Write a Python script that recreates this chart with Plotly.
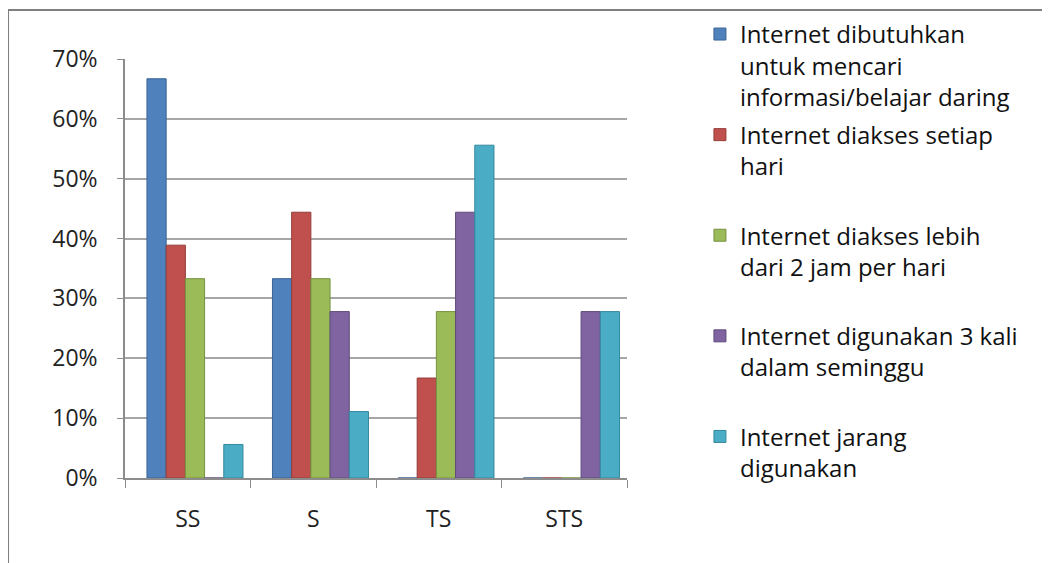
import plotly.graph_objects as go

categories = ['SS', 'S', 'TS', 'STS']
series_names = [
    'Internet dibutuhkan<br>untuk mencari<br>informasi/belajar daring',
    'Internet diakses setiap<br>hari<br> ',
    'Internet diakses lebih<br>dari 2 jam per hari<br> ',
    'Internet digunakan 3 kali<br>dalam seminggu<br> ',
    'Internet jarang<br>digunakan<br> ',
]
# shares per category, one list per series
dibutuhkan = [0.667, 0.333, 0.0, 0.0]
setiap_hari = [0.389, 0.444, 0.167, 0.0]
lebih_2_jam = [0.333, 0.333, 0.278, 0.0]
tiga_kali = [0.0, 0.278, 0.444, 0.278]
jarang = [0.056, 0.111, 0.556, 0.278]
y_ticks = [0, 0.1, 0.2, 0.3, 0.4, 0.5, 0.6, 0.7]

colors = ['#4F81BD', '#C0504D', '#9BBB59', '#8064A2', '#4BACC6']
edge = ['#3A6494', '#943C3A', '#76913F', '#5F4A7A', '#34889E']

# bars sit a bit right of the slot centre, like the 3-D original
bar_w = 0.153
first_off = -0.325

fig = go.Figure()
for i, vals in enumerate([dibutuhkan, setiap_hari, lebih_2_jam, tiga_kali, jarang]):
    fig.add_trace(go.Bar(
        x=categories, y=vals, name=series_names[i],
        width=bar_w, offset=first_off + i * bar_w,
        marker=dict(color=colors[i], line=dict(color=edge[i], width=1)),
        legendgroup=str(i),
    ))

font = 'Open Sans, Lato, sans-serif'
fig.update_layout(
    width=1050, height=563,
    margin=dict(l=117, r=431, t=51, b=93),
    paper_bgcolor='white', plot_bgcolor='white',
    barmode='group',
    font=dict(family=font, size=23, color='#222222'),
    showlegend=True,
    legend=dict(
        xref='container', yref='container',
        x=0.659, y=0.993, xanchor='left', yanchor='top',
        font=dict(size=24, color='#111111'),
        tracegroupgap=4, itemwidth=30, valign='top',
        maxheight=560,
        bgcolor='rgba(0,0,0,0)',
    ),
    xaxis=dict(
        showline=True, linecolor='#8c8c8c', linewidth=1.5,
        ticks='outside', ticklen=8, tickcolor='#8c8c8c',
        tickson='boundaries', showgrid=False,
        tickfont=dict(size=23), ticklabelstandoff=20,
    ),
    yaxis=dict(
        range=[0, 0.7], tickvals=y_ticks, tickformat='.0%',
        showline=True, linecolor='#8c8c8c', linewidth=1.5,
        ticks='outside', ticklen=6, tickcolor='#8c8c8c',
        showgrid=True, gridcolor='#a6a6a6', gridwidth=1.5,
        zeroline=False, tickfont=dict(size=23), ticklabelstandoff=15,
    ),
    shapes=[dict(
        type='rect', xref='paper', yref='paper',
        x0=-0.233, x1=1.9, y0=-0.3, y1=1.117,
        line=dict(color='#7f7f7f', width=2), layer='below',
    )],
)

fig.write_html('out.html')
